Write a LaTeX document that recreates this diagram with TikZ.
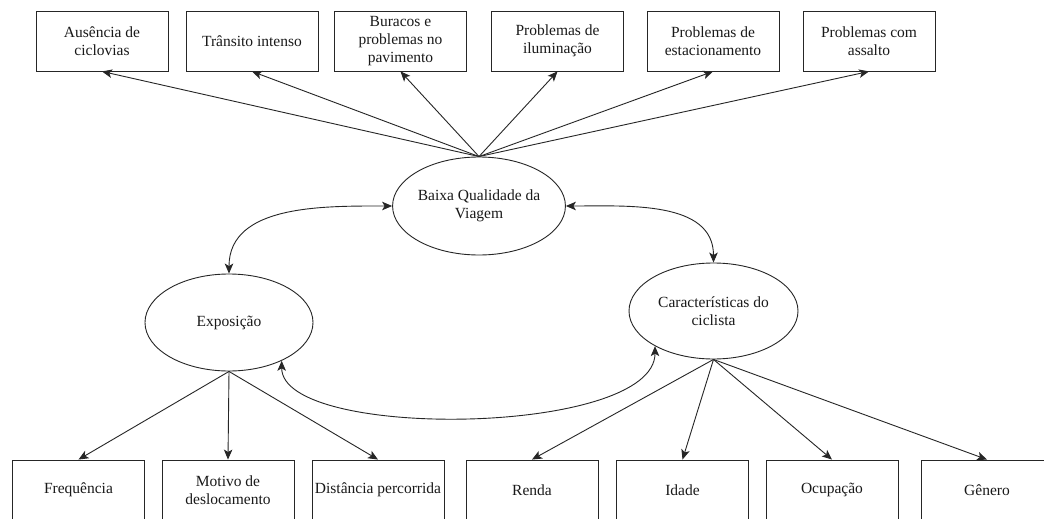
\documentclass[tikz,border=0pt]{standalone}
\usepackage{fontspec}
\setmainfont{Liberation Serif}
\usetikzlibrary{shapes.geometric,arrows.meta}
\begin{document}
\begin{tikzpicture}[x=1pt,y=-1pt,
  txt/.style={font=\fontsize{15.5}{18.3}\selectfont, text=black!90},
  box/.style={txt, draw=black!85, line width=0.9pt, minimum width=132pt, minimum height=60pt, inner sep=0pt, align=center},
  latent/.style={txt, draw=black!85, line width=0.9pt, ellipse, minimum width=168pt, minimum height=97pt, inner sep=0pt, align=center},
  link/.style={-{Stealth[length=10pt,width=8.5pt,inset=2.5pt]}, line width=0.9pt, draw=black!85},
  dlink/.style={{Stealth[length=10pt,width=8.5pt,inset=2.5pt]}-{Stealth[length=10pt,width=8.5pt,inset=2.5pt]}, line width=0.9pt, draw=black!85}
]
\useasboundingbox (0,0) rectangle (1044,519);
\clip (0,0) rectangle (1044,519);
\fill[white] (0,0) rectangle (1044,519);

% top boxes
\node[box] (t1) at (102,41) {Ausência de\\ciclovias};
\node[box] (t2) at (252,41) {Trânsito intenso};
\node[box] (t3) at (400.5,41) {Buracos e\\problemas no\\pavimento};
\node[box] (t4) at (557.5,41) {Problemas de\\iluminação};
\node[box] (t5) at (713,41) {Problemas de\\estacionamento};
\node[box] (t6) at (869,41) {Problemas com\\assalto};

% latent variables
\node[latent, minimum height=98pt] (b) at (479,206) {Baixa Qualidade da\\Viagem};
\node[latent] (e) at (229,322.5) {Exposição};
\node[latent, minimum width=169pt, minimum height=96pt] (c) at (713.5,311) {Características do\\ciclista};

% bottom boxes
\node[box] (f) at (78.5,490) {Frequência};
\node[box] (m) at (228,490) {Motivo de\\deslocamento};
\node[box] (d) at (378,490) {Distância percorrida};
\node[box] (r) at (532,490) {Renda};
\node[box] (i) at (682.5,490) {Idade};
\node[box] (o) at (832,490) {Ocupação};
\node[box] (g) at (987,490) {Gênero};

% arrows to top boxes
\foreach \t in {t1,t2,t3,t4,t5,t6}
  \draw[link] (b.north) -- (\t.south);

% arrows to bottom boxes
\foreach \t in {f,m,d}
  \draw[link] (e.south) -- (\t.north);
\foreach \t in {r,i,o,g}
  \draw[link] (c.south) -- (\t.north);

% correlations
\draw[dlink] (b.west) to[out=180,in=90] (e.north);
\draw[dlink] (b.east) to[out=0,in=90] (c.north);
\draw[dlink] (e.-36) .. controls +(0,80) and +(0,90) .. (c.211);
\end{tikzpicture}
\end{document}
